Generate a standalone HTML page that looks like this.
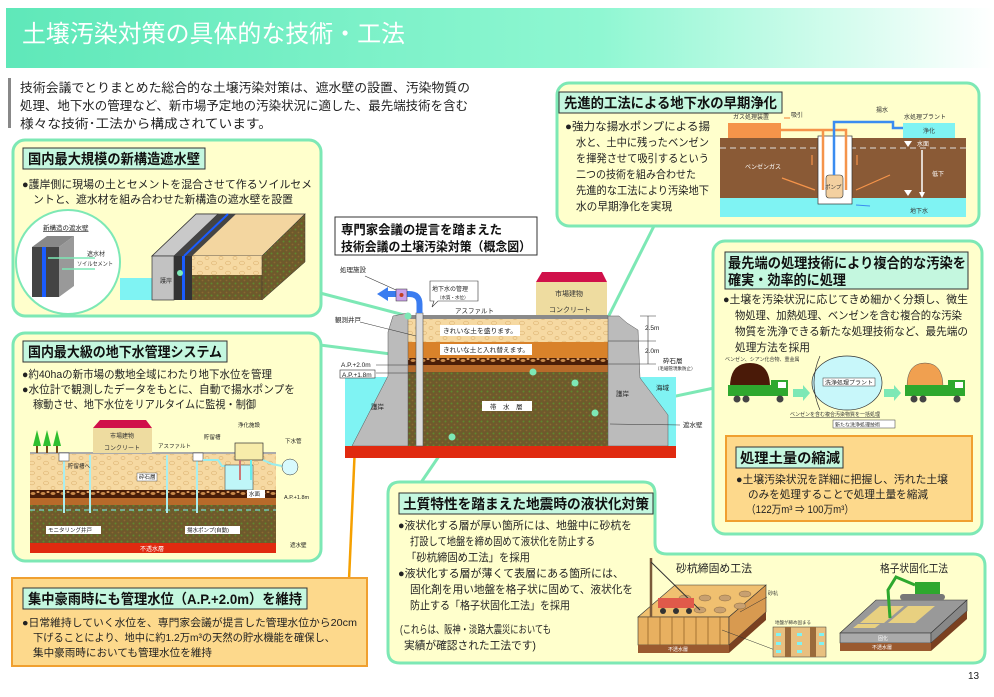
<!DOCTYPE html>
<html><head><meta charset="utf-8"><style>
html,body{margin:0;padding:0;background:#fff;}
svg{display:block;font-family:"Liberation Sans","Noto Sans CJK JP",sans-serif;}
</style></head><body>
<svg width="994" height="697" viewBox="0 0 994 697" xmlns="http://www.w3.org/2000/svg">
<defs>
<linearGradient id="hg" x1="0" x2="1" y1="0" y2="0">
<stop offset="0" stop-color="#5fe8b9"/><stop offset="0.6" stop-color="#8ff7d2"/><stop offset="1" stop-color="#ffffff"/>
</linearGradient>
<pattern id="sand" width="14" height="10" patternUnits="userSpaceOnUse">
<rect width="14" height="10" fill="#f6d9a2"/><ellipse cx="4" cy="3" rx="2.5" ry="1.8" fill="none" stroke="#e0b878" stroke-width="0.7"/><ellipse cx="11" cy="8" rx="2" ry="1.5" fill="none" stroke="#e0b878" stroke-width="0.7"/>
</pattern>
<pattern id="soil" width="6" height="6" patternUnits="userSpaceOnUse">
<rect width="6" height="6" fill="#6e5a2c"/><circle cx="1.5" cy="1.5" r="1" fill="#5f8a2e"/><circle cx="4.5" cy="4.5" r="0.9" fill="#8a6a30"/>
</pattern>
<pattern id="grav" width="10" height="7" patternUnits="userSpaceOnUse">
<rect width="10" height="7" fill="#4a1e08"/><ellipse cx="3" cy="3.5" rx="2.5" ry="1.5" fill="#c98a4a"/><ellipse cx="8" cy="2" rx="1.5" ry="1" fill="#e0a060"/>
</pattern>
</defs>

<!-- header -->
<rect x="6" y="8" width="988" height="60" fill="url(#hg)"/>
<text x="22" y="42" font-size="24" fill="#fff" textLength="383" lengthAdjust="spacingAndGlyphs">土壌汚染対策の具体的な技術・工法</text>

<!-- intro -->
<rect x="8" y="78" width="3" height="50" fill="#888"/>
<g font-size="12.5" fill="#222" lengthAdjust="spacingAndGlyphs">
<text x="20" y="92" textLength="450" lengthAdjust="spacingAndGlyphs">技術会議でとりまとめた総合的な土壌汚染対策は、遮水壁の設置、汚染物質の</text>
<text x="20" y="110" textLength="448" lengthAdjust="spacingAndGlyphs">処理、地下水の管理など、新市場予定地の汚染状況に適した、最先端技術を含む</text>
<text x="20" y="128" textLength="252" lengthAdjust="spacingAndGlyphs">様々な技術･工法から構成されています。</text>
</g>

<!-- connectors -->
<g stroke="#7de8b5" stroke-width="3" fill="none">
<line x1="320" y1="293" x2="408" y2="316"/>
<line x1="320" y1="345" x2="533" y2="372"/>
<line x1="655" y1="224" x2="575" y2="383"/>
<line x1="714" y1="388" x2="595" y2="413"/>
<line x1="420" y1="484" x2="452" y2="437"/>
</g>

<!-- ===== Box1 ===== -->
<rect x="13" y="140" width="308" height="176" rx="12" fill="#ffffcc" stroke="#7de8b5" stroke-width="3"/>
<rect x="23" y="148" width="182" height="21" fill="#c4f7df" stroke="#333"/>
<text x="28" y="164" font-size="14" font-weight="bold" fill="#111" textLength="172" lengthAdjust="spacingAndGlyphs">国内最大規模の新構造遮水壁</text>
<g font-size="11" fill="#222">
<text x="22" y="188" textLength="290" lengthAdjust="spacingAndGlyphs">●護岸側に現場の土とセメントを混合させて作るソイルセメ</text>
<text x="33" y="203" textLength="260" lengthAdjust="spacingAndGlyphs">ントと、遮水材を組み合わせた新構造の遮水壁を設置</text>
</g>
<circle cx="68" cy="262" r="52" fill="#fff" stroke="#7de8b5" stroke-width="2"/>
<text x="43" y="230" font-size="6.5" fill="#222" text-decoration="underline">新構造の遮水壁</text>
<polygon points="32,247 47,236 74,236 59,247" fill="#888"/>
<polygon points="59,247 74,236 74,286 59,297" fill="#999"/>
<rect x="32" y="247" width="27" height="50" fill="#444"/>
<rect x="42" y="247" width="4" height="50" fill="#1a5cff"/>
<line x1="48" y1="258" x2="95" y2="258" stroke="#7de8b5" stroke-width="1.5"/>
<line x1="62" y1="269" x2="95" y2="269" stroke="#7de8b5" stroke-width="1.5"/>
<text x="87" y="256" font-size="6" fill="#333">遮水材</text>
<text x="77" y="266" font-size="6" fill="#333" textLength="36" lengthAdjust="spacingAndGlyphs">ソイルセメント</text>
<rect x="120" y="278" width="32" height="22" fill="#7ff3f3"/>
<polygon points="152,256 196,214 305,214 262,256" fill="#f3d6a0" stroke="#333" stroke-width="0.7"/>
<polygon points="152,256 196,214 218,214 174,256" fill="#c9c9c9" stroke="#333" stroke-width="0.7"/>
<polygon points="174,256 218,214 236,214 192,256" fill="#444"/>
<line x1="184" y1="256" x2="228" y2="214" stroke="#1a5cff" stroke-width="2"/>
<rect x="152" y="256" width="22" height="44" fill="#c2c2c2" stroke="#333" stroke-width="0.7"/>
<text x="160" y="283" font-size="6" fill="#333">護岸</text>
<rect x="174" y="256" width="18" height="44" fill="#333"/>
<rect x="182" y="256" width="3" height="44" fill="#1a5cff"/>
<rect x="192" y="256" width="70" height="19" fill="url(#sand)"/>
<rect x="192" y="275" width="70" height="25" fill="url(#soil)"/>
<polygon points="262,256 305,214 305,262 262,300" fill="url(#soil)" stroke="#333" stroke-width="0.5"/>
<circle cx="180" cy="273" r="3" fill="#7de8b5"/>

<!-- ===== Box2 ===== -->
<rect x="13" y="333" width="308" height="228" rx="12" fill="#ffffcc" stroke="#7de8b5" stroke-width="3"/>
<rect x="23" y="341" width="204" height="21" fill="#c4f7df" stroke="#333"/>
<text x="28" y="357" font-size="14" font-weight="bold" fill="#111" textLength="194" lengthAdjust="spacingAndGlyphs">国内最大級の地下水管理システム</text>
<g font-size="11" fill="#222">
<text x="22" y="378" textLength="250" lengthAdjust="spacingAndGlyphs">●約40haの新市場の敷地全域にわたり地下水位を管理</text>
<text x="22" y="393" textLength="273" lengthAdjust="spacingAndGlyphs">●水位計で観測したデータをもとに、自動で揚水ポンプを</text>
<text x="33" y="408" textLength="223" lengthAdjust="spacingAndGlyphs">稼動させ、地下水位をリアルタイムに監視・制御</text>
</g>
<rect x="30" y="453" width="246" height="37" fill="url(#sand)"/>
<rect x="30" y="490" width="246" height="8" fill="url(#grav)"/>
<rect x="30" y="498" width="246" height="7" fill="#b86a2a"/>
<rect x="30" y="505" width="246" height="38" fill="url(#soil)"/>
<line x1="30" y1="510" x2="276" y2="510" stroke="#7ff3f3" stroke-dasharray="5,4"/>
<rect x="30" y="543" width="246" height="10" fill="#e02a10"/>
<text x="140" y="551" font-size="6" fill="#fff">不透水層</text>
<rect x="30" y="452" width="246" height="2" fill="#aaa"/>
<polygon points="93,428 100,420 146,420 152,428" fill="#d0104a"/>
<rect x="93" y="428" width="59" height="25" fill="#eedca0"/>
<text x="110" y="438" font-size="6" fill="#333">市場建物</text>
<text x="104" y="450" font-size="6" fill="#333">コンクリート</text>
<g fill="#2fbf2f"><polygon points="37,430 41,446 33,446"/><polygon points="47,430 51,446 43,446"/><polygon points="57,430 61,446 53,446"/></g>
<g fill="#7a4a1a"><rect x="36" y="446" width="2" height="7"/><rect x="46" y="446" width="2" height="7"/><rect x="56" y="446" width="2" height="7"/></g>
<g stroke="#aee" stroke-width="2"><line x1="64" y1="458" x2="64" y2="513"/><line x1="90" y1="455" x2="90" y2="513"/><line x1="167" y1="455" x2="167" y2="513"/><line x1="197" y1="458" x2="197" y2="513"/></g>
<rect x="59" y="453" width="10" height="8" fill="#fff" stroke="#333" stroke-width="0.5"/>
<rect x="193" y="453" width="10" height="8" fill="#fff" stroke="#333" stroke-width="0.5"/>
<polyline points="203,460 218,460 222,466 228,466" fill="none" stroke="#9ee" stroke-width="2"/>
<rect x="225" y="465" width="28" height="25" fill="#bff6f8" stroke="#333" stroke-width="0.5"/>
<rect x="235" y="443" width="28" height="17" fill="#f7ecaa" stroke="#333" stroke-width="0.7"/>
<line x1="240" y1="460" x2="240" y2="480" stroke="#c77" stroke-width="2"/>
<line x1="251" y1="460" x2="251" y2="480" stroke="#6ee" stroke-width="2"/>
<polyline points="263,460 272,464 282,466" fill="none" stroke="#9ee" stroke-width="2"/>
<circle cx="290" cy="467" r="8" fill="#d8fafd" stroke="#333" stroke-width="0.5"/>
<g font-size="5.5" fill="#222">
<text x="238" y="427">浄化施設</text><text x="204" y="439">貯留槽</text><text x="285" y="443">下水管</text>
<text x="158" y="448">アスファルト</text><text x="68" y="468">貯留槽へ</text>
<rect x="137" y="473" width="20" height="8" fill="#fff" stroke="#333" stroke-width="0.4"/><text x="139" y="479">砕石層</text>
<rect x="247" y="490" width="18" height="8" fill="#fff"/><text x="249" y="496">水面</text>
<text x="284" y="499">A.P.+1.8m</text>
<rect x="46" y="526" width="55" height="8" fill="#fff"/><text x="48" y="532">モニタリング井戸</text>
<rect x="185" y="526" width="55" height="8" fill="#fff"/><text x="187" y="532">揚水ポンプ(自動)</text>
<text x="290" y="547">遮水壁</text>
</g>

<!-- ===== Box3 orange ===== -->
<line x1="358" y1="378" x2="349" y2="580" stroke="#f5a000" stroke-width="2.5"/>
<rect x="12" y="578" width="355" height="88" fill="#fdd98c" stroke="#f0a030" stroke-width="2"/>
<rect x="23" y="588" width="284" height="21" fill="#c4f7df" stroke="#333"/>
<text x="28" y="604" font-size="14" font-weight="bold" fill="#111" textLength="274" lengthAdjust="spacingAndGlyphs">集中豪雨時にも管理水位（A.P.+2.0m）を維持</text>
<g font-size="10.5" fill="#222">
<text x="22" y="626" textLength="335" lengthAdjust="spacingAndGlyphs">●日常維持していく水位を、専門家会議が提言した管理水位から20cm</text>
<text x="33" y="641" textLength="302" lengthAdjust="spacingAndGlyphs">下げることにより、地中に約1.2万m³の天然の貯水機能を確保し、</text>
<text x="33" y="656" textLength="179" lengthAdjust="spacingAndGlyphs">集中豪雨時においても管理水位を維持</text>
</g>

<!-- ===== Center diagram ===== -->
<rect x="335" y="217" width="202" height="38" fill="#fff" stroke="#333"/>
<text x="341" y="234" font-size="12.5" font-weight="bold" fill="#111" textLength="161" lengthAdjust="spacingAndGlyphs">専門家会議の提言を踏まえた</text>
<text x="341" y="251" font-size="12.5" font-weight="bold" fill="#111" textLength="190" lengthAdjust="spacingAndGlyphs">技術会議の土壌汚染対策（概念図）</text>
<rect x="345" y="377" width="42" height="69" fill="#7ff3f3"/>
<rect x="634" y="377" width="42" height="69" fill="#7ff3f3"/>
<rect x="408" y="315" width="200" height="4" fill="#8a8a8a"/>
<rect x="408" y="319" width="200" height="23" fill="url(#sand)"/>
<rect x="408" y="342" width="200" height="16" fill="#d9822a"/>
<rect x="408" y="358" width="200" height="7" fill="url(#grav)"/>
<rect x="408" y="365" width="200" height="7" fill="#b86a2a"/>
<rect x="408" y="372" width="200" height="74" fill="url(#soil)"/>
<polygon points="388,332 393,316 408,313 408,446 352,446 388,376" fill="#bbb" stroke="#555" stroke-width="0.5"/>
<polygon points="608,316 619,316 627,323 638,330 640,378 668,415 668,446 608,446" fill="#bbb" stroke="#555" stroke-width="0.5"/>
<rect x="345" y="446" width="331" height="12" fill="#e02a10"/>
<polygon points="536,282 542,272 602,272 607,282" fill="#d0104a"/>
<rect x="536" y="282" width="71" height="33" fill="#eedca0"/>
<text x="555" y="296" font-size="7" fill="#333">市場建物</text>
<text x="549" y="312" font-size="7" fill="#333">コンクリート</text>
<rect x="416" y="313" width="7" height="133" fill="#ddd" stroke="#555" stroke-width="0.6"/>
<path d="M419.5,313 V304 Q419.5,294 409,294 H386" fill="none" stroke="#3a7cf0" stroke-width="6"/>
<polygon points="377,294 388,287 388,301" fill="#3a7cf0"/>
<rect x="396" y="289" width="11" height="12" fill="#c9a0e8" stroke="#333" stroke-width="0.5"/>
<circle cx="401.5" cy="295" r="2" fill="#c04020"/>
<g font-size="6.5" fill="#222">
<text x="340" y="272">処理施設</text>
<line x1="365" y1="276" x2="396" y2="290" stroke="#333" stroke-width="0.6"/>
<text x="335" y="322">観測井戸</text>
<line x1="360" y1="322" x2="416" y2="336" stroke="#333" stroke-width="0.6"/>
<path d="M430,281 h48 v20 h-40 l-6,6 l2,-6 h-4 z" fill="#fff" stroke="#333" stroke-width="0.6"/>
<text x="432" y="291" font-size="6">地下水の管理</text>
<text x="437" y="299" font-size="4.5">（水質・水位）</text>
<text x="455" y="313">アスファルト</text>
<rect x="440" y="325" width="80" height="11" fill="#fff"/><text x="443" y="333" textLength="74" lengthAdjust="spacingAndGlyphs">きれいな土を盛ります。</text>
<rect x="440" y="344" width="92" height="11" fill="#fff"/><text x="443" y="352" textLength="86" lengthAdjust="spacingAndGlyphs">きれいな土と入れ替えます。</text>
<rect x="482" y="401" width="50" height="10" fill="#fff"/><text x="490" y="409">帯　水　層</text>
<text x="341" y="367">A.P.+2.0m</text>
<rect x="340" y="370" width="35" height="8" fill="#fff" stroke="#333" stroke-width="0.6"/><text x="342" y="377">A.P.+1.8m</text>
<line x1="376" y1="365" x2="416" y2="365" stroke="#333" stroke-width="0.5"/>
<line x1="376" y1="373" x2="416" y2="373" stroke="#333" stroke-width="0.5"/>
<text x="371" y="409">護岸</text><text x="616" y="396">護岸</text>
<text x="656" y="390">海域</text>
<text x="683" y="427">遮水壁</text>
<line x1="610" y1="424" x2="680" y2="425" stroke="#333" stroke-width="0.5"/>
<line x1="648" y1="316" x2="648" y2="364" stroke="#333" stroke-width="0.6"/>
<line x1="640" y1="316" x2="656" y2="316" stroke="#333" stroke-width="0.5"/>
<line x1="608" y1="341" x2="656" y2="341" stroke="#333" stroke-width="0.5"/>
<line x1="608" y1="364" x2="656" y2="364" stroke="#333" stroke-width="0.5"/>
<text x="645" y="330">2.5m</text><text x="645" y="353">2.0m</text>
<text x="663" y="363">砕石層</text>
<text x="655" y="370" font-size="4.5">（毛細管現象防止）</text>
</g>
<g fill="#7de8b5"><circle cx="408" cy="316" r="3.5"/><circle cx="533" cy="372" r="3.5"/><circle cx="575" cy="383" r="3.5"/><circle cx="595" cy="413" r="3.5"/><circle cx="452" cy="437" r="3.5"/></g>

<!-- ===== Box4 ===== -->
<rect x="557" y="83" width="422" height="143" rx="12" fill="#ffffcc" stroke="#7de8b5" stroke-width="3"/>
<rect x="559" y="92" width="223" height="21" fill="#c4f7df" stroke="#333"/>
<text x="564" y="108" font-size="14" font-weight="bold" fill="#111" textLength="213" lengthAdjust="spacingAndGlyphs">先進的工法による地下水の早期浄化</text>
<g font-size="11" fill="#222">
<text x="565" y="130" textLength="145" lengthAdjust="spacingAndGlyphs">●強力な揚水ポンプによる揚</text>
<text x="576" y="146" textLength="133" lengthAdjust="spacingAndGlyphs">水と、土中に残ったベンゼン</text>
<text x="576" y="162" textLength="133" lengthAdjust="spacingAndGlyphs">を揮発させて吸引するという</text>
<text x="576" y="178" textLength="120" lengthAdjust="spacingAndGlyphs">二つの技術を組み合わせた</text>
<text x="576" y="194" textLength="133" lengthAdjust="spacingAndGlyphs">先進的な工法により汚染地下</text>
<text x="576" y="210" textLength="96" lengthAdjust="spacingAndGlyphs">水の早期浄化を実現</text>
</g>
<rect x="720" y="138" width="246" height="60" fill="#8a5a36"/>
<rect x="720" y="198" width="246" height="19" fill="#7ff3f3"/>
<line x1="720" y1="148" x2="966" y2="148" stroke="#ddd" stroke-dasharray="6,4"/>
<rect x="728" y="123" width="53" height="15" fill="#f5944a"/>
<rect x="903" y="123" width="52" height="15" fill="#7ff3f3"/>
<rect x="818" y="136" width="34" height="68" fill="#fff" stroke="#333" stroke-width="0.7"/>
<rect x="826" y="175" width="17" height="23" rx="3" fill="#f3d0a0" stroke="#333" stroke-width="0.6"/>
<polyline points="781,130 846,130 846,190" fill="none" stroke="#f5944a" stroke-width="2.5"/>
<line x1="823" y1="130" x2="823" y2="190" stroke="#f5944a" stroke-width="2.5"/>
<polyline points="834,175 834,122 893,122 893,128 903,128" fill="none" stroke="#3a8cf0" stroke-width="2.5"/>
<g font-size="6" fill="#333">
<text x="733" y="119">ガス処理装置</text><text x="791" y="117">吸引</text><text x="876" y="112">揚水</text>
<text x="904" y="119">水処理プラント</text><text x="923" y="133">浄化</text>
<text x="917" y="146" fill="#fff">水面</text><text x="745" y="169" fill="#fff">ベンゼンガス</text>
<text x="932" y="176" fill="#fff">低下</text><text x="910" y="213">地下水</text>
<text x="825" y="189" font-size="5.5">ポンプ</text>
</g>
<polygon points="904,141 912,141 908,147" fill="#fff"/>
<polygon points="904,190 912,190 908,196" fill="#fff"/>
<line x1="922" y1="150" x2="922" y2="193" stroke="#fff" stroke-width="1.5"/>
<polygon points="919,192 925,192 922,198" fill="#fff"/>
<g stroke="#f5944a" stroke-width="1.2"><line x1="782" y1="178" x2="815" y2="190"/><line x1="890" y1="175" x2="856" y2="190"/><line x1="812" y1="165" x2="812" y2="155"/><line x1="857" y1="165" x2="857" y2="155"/><line x1="790" y1="118" x2="784" y2="118"/></g>
<line x1="870" y1="206" x2="856" y2="205" stroke="#3a8cf0" stroke-width="1"/>

<!-- ===== Box5 ===== -->
<rect x="713" y="241" width="269" height="293" rx="12" fill="#ffffcc" stroke="#7de8b5" stroke-width="3"/>
<rect x="725" y="252" width="243" height="37" fill="#c4f7df" stroke="#333"/>
<text x="728" y="268" font-size="14" font-weight="bold" fill="#111" textLength="238" lengthAdjust="spacingAndGlyphs">最先端の処理技術により複合的な汚染を</text>
<text x="728" y="285" font-size="14" font-weight="bold" fill="#111" textLength="118" lengthAdjust="spacingAndGlyphs">確実・効率的に処理</text>
<g font-size="11" fill="#222">
<text x="723" y="303" textLength="245" lengthAdjust="spacingAndGlyphs">●土壌を汚染状況に応じてきめ細かく分類し、微生</text>
<text x="735" y="319" textLength="227" lengthAdjust="spacingAndGlyphs">物処理、加熱処理、ベンゼンを含む複合的な汚染</text>
<text x="735" y="335" textLength="233" lengthAdjust="spacingAndGlyphs">物質を洗浄できる新たな処理技術など、最先端の</text>
<text x="735" y="351" textLength="75" lengthAdjust="spacingAndGlyphs">処理方法を採用</text>
</g>
<text x="725" y="361" font-size="5" fill="#333">ベンゼン、シアン化合物、重金属</text>
<path d="M730,387 Q730,363 750,363 Q770,363 770,387 Z" fill="#4a1a08"/>
<rect x="728" y="385" width="45" height="11" fill="#2ea82e"/>
<rect x="771" y="380" width="17" height="16" fill="#2ea82e"/>
<rect x="778" y="382" width="8" height="6" fill="#fff"/>
<g fill="#444"><circle cx="737" cy="399" r="3.5"/><circle cx="746" cy="399" r="3.5"/><circle cx="780" cy="399" r="3.5"/></g>
<polygon points="793,389 803,389 803,385 810,393 803,401 803,397 793,397" fill="#7de8b5"/>
<ellipse cx="847" cy="383" rx="35" ry="27" fill="#c8f7fa" stroke="#333" stroke-width="0.7"/>
<path d="M820,356 Q808,383 820,410" fill="none" stroke="#333" stroke-width="0.7"/>
<rect x="823" y="378" width="52" height="8" fill="#fff" stroke="#333" stroke-width="0.5"/>
<text x="825" y="384.5" font-size="5.5" fill="#222" textLength="48" lengthAdjust="spacingAndGlyphs">洗浄処理プラント</text>
<polygon points="884,389 894,389 894,385 901,393 894,401 894,397 884,397" fill="#7de8b5"/>
<path d="M907,387 Q907,363 925,363 Q943,363 943,387 Z" fill="#f0a050" stroke="#555" stroke-width="0.5"/>
<rect x="905" y="385" width="45" height="11" fill="#2ea82e"/>
<rect x="948" y="380" width="17" height="16" fill="#2ea82e"/>
<rect x="955" y="382" width="8" height="6" fill="#fff"/>
<g fill="#444"><circle cx="914" cy="399" r="3.5"/><circle cx="923" cy="399" r="3.5"/><circle cx="957" cy="399" r="3.5"/></g>
<text x="790" y="416" font-size="5" fill="#333" text-decoration="underline">ベンゼンを含む複合汚染物質を一括処理</text>
<rect x="833" y="420" width="62" height="8" fill="#fff" stroke="#333" stroke-width="0.5"/>
<text x="835" y="426.5" font-size="5" fill="#333">新たな洗浄処理技術</text>
<rect x="726" y="436" width="246" height="85" fill="#fdd98c" stroke="#f0a030" stroke-width="2"/>
<rect x="736" y="447" width="107" height="21" fill="#c4f7df" stroke="#333"/>
<text x="740" y="463" font-size="14" font-weight="bold" fill="#111" textLength="100" lengthAdjust="spacingAndGlyphs">処理土量の縮減</text>
<g font-size="11" fill="#222">
<text x="736" y="483" textLength="212" lengthAdjust="spacingAndGlyphs">●土壌汚染状況を詳細に把握し、汚れた土壌</text>
<text x="748" y="498" textLength="180" lengthAdjust="spacingAndGlyphs">のみを処理することで処理土量を縮減</text>
<text x="746" y="513" textLength="108" lengthAdjust="spacingAndGlyphs">（122万m³ ⇒ 100万m³）</text>
</g>

<!-- ===== Box6 ===== -->
<path d="M400,482 H643 Q655,482 655,494 V543 Q655,554 667,554 H973 Q985,554 985,566 V651 Q985,663 973,663 H400 Q388,663 388,651 V494 Q388,482 400,482 Z" fill="#ffffcc" stroke="#7de8b5" stroke-width="3"/>
<rect x="399" y="493" width="254" height="21" fill="#c4f7df" stroke="#333"/>
<text x="403" y="509" font-size="14" font-weight="bold" fill="#111" textLength="246" lengthAdjust="spacingAndGlyphs">土質特性を踏まえた地震時の液状化対策</text>
<g font-size="11" fill="#222">
<text x="398" y="529" textLength="234" lengthAdjust="spacingAndGlyphs">●液状化する層が厚い箇所には、地盤中に砂杭を</text>
<text x="410" y="545" textLength="185" lengthAdjust="spacingAndGlyphs">打設して地盤を締め固めて液状化を防止する</text>
<text x="406" y="561" textLength="124" lengthAdjust="spacingAndGlyphs">「砂杭締固め工法」を採用</text>
<text x="398" y="577" textLength="226" lengthAdjust="spacingAndGlyphs">●液状化する層が薄くて表層にある箇所には、</text>
<text x="410" y="593" textLength="223" lengthAdjust="spacingAndGlyphs">固化剤を用い地盤を格子状に固めて、液状化を</text>
<text x="410" y="609" textLength="160" lengthAdjust="spacingAndGlyphs">防止する「格子状固化工法」を採用</text>
<text x="400" y="633" textLength="151" lengthAdjust="spacingAndGlyphs">(これらは、阪神・淡路大震災においても</text>
<text x="404" y="649" textLength="132" lengthAdjust="spacingAndGlyphs">実績が確認された工法です)</text>
</g>
<text x="676" y="572" font-size="11" fill="#222" textLength="76" lengthAdjust="spacingAndGlyphs">砂杭締固め工法</text>
<text x="880" y="572" font-size="11" fill="#222" textLength="68" lengthAdjust="spacingAndGlyphs">格子状固化工法</text>
<polygon points="638,617 675,585 766,585 729,617" fill="#f0c070" stroke="#333" stroke-width="0.6"/>
<rect x="638" y="617" width="91" height="28" fill="#e8b060" stroke="#333" stroke-width="0.6"/>
<g stroke="#8a5a20" stroke-width="0.7"><line x1="648" y1="617" x2="648" y2="645"/><line x1="660" y1="617" x2="660" y2="645"/><line x1="672" y1="617" x2="672" y2="645"/><line x1="684" y1="617" x2="684" y2="645"/><line x1="696" y1="617" x2="696" y2="645"/><line x1="708" y1="617" x2="708" y2="645"/><line x1="720" y1="617" x2="720" y2="645"/></g>
<polygon points="729,617 766,585 766,612 729,645" fill="#d89a50" stroke="#333" stroke-width="0.6"/>
<rect x="638" y="645" width="91" height="8" fill="#9a5a30"/>
<polygon points="729,645 766,612 766,620 729,653" fill="#7a4020"/>
<text x="668" y="651" font-size="5" fill="#fff">不透水層</text>
<g fill="#c8a070" stroke="#8a6a40" stroke-width="0.5"><ellipse cx="685" cy="598" rx="6" ry="3"/><ellipse cx="705" cy="598" rx="6" ry="3"/><ellipse cx="725" cy="598" rx="6" ry="3"/><ellipse cx="745" cy="594" rx="6" ry="3"/><ellipse cx="700" cy="610" rx="6" ry="3"/><ellipse cx="720" cy="610" rx="6" ry="3"/><ellipse cx="740" cy="606" rx="6" ry="3"/></g>
<line x1="651" y1="558" x2="651" y2="617" stroke="#7a5a3a" stroke-width="2.5"/>
<line x1="651" y1="562" x2="700" y2="610" stroke="#333" stroke-width="1"/>
<rect x="658" y="598" width="36" height="10" fill="#e05a4a"/>
<g fill="#333"><circle cx="663" cy="611" r="3"/><circle cx="676" cy="611" r="3"/><circle cx="689" cy="611" r="3"/></g>
<text x="768" y="595" font-size="5" fill="#333">砂杭</text>
<line x1="767" y1="597" x2="740" y2="612" stroke="#333" stroke-width="0.5"/>
<line x1="722" y1="630" x2="775" y2="650" stroke="#333" stroke-width="0.5"/>
<text x="775" y="624" font-size="4.5" fill="#333">地盤が締め固まる</text>
<rect x="773" y="627" width="53" height="30" fill="#e8c080" stroke="#333" stroke-width="0.5"/>
<rect x="785" y="627" width="6" height="30" fill="#9a6a3a"/><rect x="810" y="627" width="6" height="30" fill="#9a6a3a"/>
<g fill="#7ff3f3"><rect x="776" y="633" width="5" height="3"/><rect x="776" y="642" width="5" height="3"/><rect x="776" y="650" width="5" height="3"/><rect x="797" y="633" width="5" height="3"/><rect x="797" y="642" width="5" height="3"/><rect x="797" y="650" width="5" height="3"/><rect x="819" y="633" width="5" height="3"/><rect x="819" y="642" width="5" height="3"/></g>
<polygon points="840,633 876,600 967,600 931,633" fill="#999" stroke="#333" stroke-width="0.6"/>
<polygon points="860,623 880,606 904,606 884,623" fill="#e8d080"/>
<polygon points="888,623 908,606 935,606 915,623" fill="#e8d080"/>
<polygon points="853,628 858,624 880,624 875,628" fill="#e8d080"/>
<rect x="840" y="633" width="91" height="10" fill="#aaa" stroke="#333" stroke-width="0.6"/>
<polygon points="931,633 967,600 967,611 931,643" fill="#888" stroke="#333" stroke-width="0.6"/>
<rect x="840" y="643" width="91" height="8" fill="#9a5a30"/>
<polygon points="931,643 967,611 967,619 931,651" fill="#7a4020"/>
<text x="878" y="640" font-size="5" fill="#fff">固化</text>
<text x="872" y="649" font-size="5" fill="#fff">不透水層</text>
<rect x="915" y="582" width="25" height="12" fill="#2ea82e"/>
<rect x="900" y="594" width="45" height="6" rx="3" fill="#777"/>
<polyline points="915,585 896,577 888,590 890,618" fill="none" stroke="#2ea82e" stroke-width="3"/>

<text x="968" y="679" font-size="10" fill="#222">13</text>
</svg>
</body></html>
